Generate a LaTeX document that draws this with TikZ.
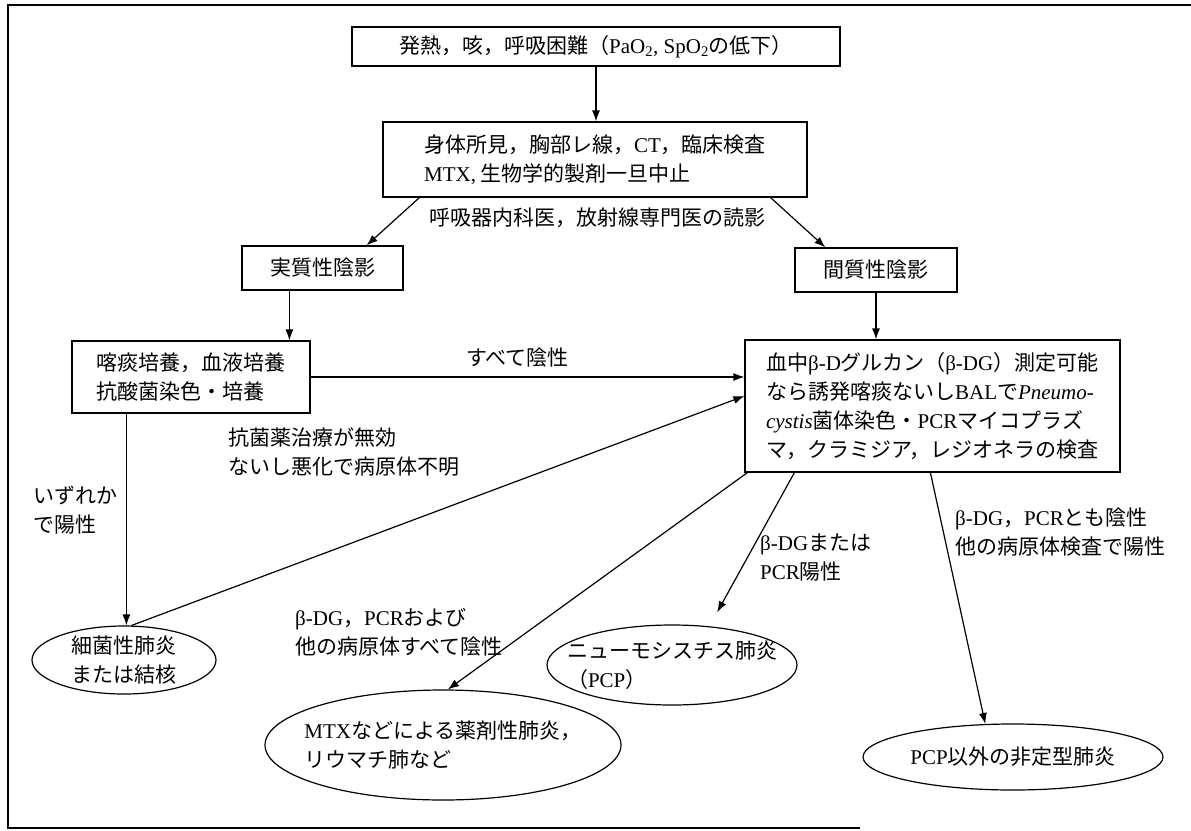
\documentclass[tikz,border=0pt]{standalone}
\usepackage{fontspec}
\setmainfont{Noto Sans CJK JP}
\newfontfamily\latf{Liberation Serif}
\newcommand\lt[1]{{\latf #1}}
\usetikzlibrary{arrows.meta,shapes.geometric}
\begin{document}
\begin{tikzpicture}[x=1pt,y=-1pt,
  every node/.style={font=\fontsize{21}{29}\selectfont},
  box/.style={draw,line width=1.2pt,rectangle,inner sep=0pt,align=left},
  ell/.style={draw,line width=1.2pt,ellipse,inner sep=0pt},
  txt/.style={align=left,inner sep=0pt},
  arr/.style={line width=1.2pt,-{Latex[length=11pt,width=8pt]}},
  frame/.style={line width=1.8pt}]
\useasboundingbox (0,0) rectangle (1191,830);
\draw[frame] (1191,5) -- (8,5) -- (8,828) -- (860,828);

\node[box,minimum width=488pt,minimum height=39pt] (b1) at (596,46.5) {発熱，咳，呼吸困難（\lt{PaO\textsubscript{2}, SpO\textsubscript{2}}の低下）};
\node[box,minimum width=424pt,minimum height=75pt] (b2) at (595,159.5) {身体所見，胸部レ線，\lt{CT}，臨床検査\\\lt{MTX,} 生物学的製剤一旦中止};
\node[txt] (rd) at (597,218) {呼吸器内科医，放射線専門医の読影};
\node[box,minimum width=161pt,minimum height=44pt] (jis) at (322.5,268) {実質性陰影};
\node[box,minimum width=162pt,minimum height=44pt] (kan) at (876,270) {間質性陰影};
\node[box,minimum width=238pt,minimum height=72pt] (kaku) at (191,377) {喀痰培養，血液培養\\抗酸菌染色・培養};
\node[box,minimum width=375pt,minimum height=132pt] (blood) at (932.5,406) {血中\lt{β-D}グルカン（\lt{β-DG}）測定可能\\なら誘発喀痰ないし\lt{BAL}で\lt{\textit{Pneumo-}}\\\lt{\textit{cystis}}菌体染色・\lt{PCR}マイコプラズ\\マ，クラミジア，レジオネラの検査};

\node[ell,minimum width=184pt,minimum height=68pt] (sai) at (124,660) {};
\node[txt] (saiT) at (sai.center) {細菌性肺炎\\または結核};
\node[ell,minimum width=356pt,minimum height=110pt] (mtx) at (443,745) {};
\node[txt] (mtxT) at (mtx.center) {\lt{MTX}などによる薬剤性肺炎，\\リウマチ肺など};
\node[ell,minimum width=250pt,minimum height=80pt] (pcp) at (672,665) {};
\node[txt] (pcpT) at (pcp.center) {ニューモシスチス肺炎\\（\lt{PCP}）};
\node[ell,minimum width=300pt,minimum height=66pt] (oth) at (1013,757) {};
\node[txt] (othT) at (oth.center) {\lt{PCP}以外の非定型肺炎};

\node[txt,anchor=west] (l1) at (466,358) {すべて陰性};
\node[txt,anchor=north west] (l2) at (228,428) {抗菌薬治療が無効\\ないし悪化で病原体不明};
\node[txt,anchor=north west] (l3) at (33,486) {いずれか\\で陽性};
\node[txt,anchor=north west] (l4) at (295,608) {\lt{β-DG}，\lt{PCR}および\\他の病原体すべて陰性};
\node[txt,anchor=north west] (l5) at (760,534) {\lt{β-DG}または\\\lt{PCR}陽性};
\node[txt,anchor=north west] (l6) at (955,508) {\lt{β-DG}，\lt{PCR}とも陰性\\他の病原体検査で陽性};

\draw[arr] (b1.south) -- (b1.south |- b2.north);
\draw[arr] ([xshift=37pt]b2.south west) -- ([xshift=-37pt]jis.north east);
\draw[arr] ([xshift=-37pt]b2.south east) -- ([xshift=31pt]kan.north west);
\draw[arr] ([xshift=48pt]jis.south west) -- ([xshift=48pt]jis.south west |- kaku.north);
\draw[arr] (kan.south) -- (kan.south |- blood.north);
\draw[arr] (kaku.east) -- (kaku.east -| blood.west);
\draw[arr] ([xshift=55pt]kaku.south west) -- ([xshift=55pt]kaku.south west |- sai.north);
\draw[arr] (sai.78) -- ([yshift=10pt]blood.west);
\draw[arr] ([xshift=3pt]blood.south west) -- (mtx.85);
\draw[arr,shorten >=16pt] ([xshift=50pt]blood.south west) -- (pcp.46);
\draw[arr] ([xshift=186pt]blood.south west) -- (oth.130);
\end{tikzpicture}
\end{document}
